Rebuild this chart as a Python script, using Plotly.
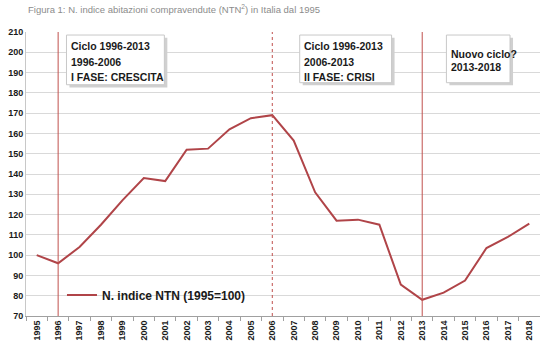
import plotly.graph_objects as go

years = [str(y) for y in range(1995, 2019)]
ntn = [100, 96, 104, 115, 127, 138, 136.5, 152, 152.5, 162, 167.5, 169,
       156.5, 131, 117, 117.5, 115, 85.5, 78, 81.5, 87.5, 103.5, 109, 115.5]
series_name = "N. indice NTN (1995=100)"
title_text = "Figura 1: N. indice abitazioni compravendute (NTN<sup>2</sup>) in Italia dal 1995"
y_ticks = list(range(70, 211, 10))
phase_years = ["1996", "2006", "2013"]
boxes = [
    ["Ciclo 1996-2013", "1996-2006", "I FASE: CRESCITA"],
    ["Ciclo 1996-2013", "2006-2013", "II FASE: CRISI"],
    ["Nuovo ciclo?", "2013-2018"],
]

RED = "#C0504D"
LINE = "#B04448"
FONT = "Liberation Sans"

fig = go.Figure()
fig.add_trace(go.Scatter(x=years, y=ntn, mode="lines", name="<b>" + series_name + "</b>",
                         line=dict(color=LINE, width=2)))

shapes = []
for i, yr in enumerate(phase_years):
    xi = years.index(yr)
    shapes.append(dict(type="line", xref="x", yref="y", x0=xi, x1=xi, y0=70, y1=210,
                       line=dict(color=RED, width=1, dash="dot" if i == 1 else "solid")))

box_geom = [(1.39, 5.96, 208.5, 184.0), (12.28, 16.57, 208.5, 185.0), (19.13, 22.1, 208.5, 185.0)]
text_x = [1.49, 12.38, 19.27]
line_y = [[203.1, 195.2, 187.6], [203.1, 195.2, 188.0], [199.1, 192.6]]
annotations = []
for (x0, x1, y1, y0), tx, ly, lines in zip(box_geom, text_x, line_y, boxes):
    shapes.append(dict(type="rect", xref="x", yref="y", x0=x0 + 0.14, x1=x1 + 0.14,
                       y0=y0 - 1.3, y1=y1 - 1.3, fillcolor="#d0d0d0",
                       line=dict(width=0), layer="above"))
    shapes.append(dict(type="rect", xref="x", yref="y", x0=x0, x1=x1, y0=y0, y1=y1,
                       fillcolor="white", line=dict(color="#c8c8c8", width=1), layer="above"))
    for t, yy in zip(lines, ly):
        annotations.append(dict(x=tx, y=yy, xref="x", yref="y", text="<b>%s</b>" % t,
                                showarrow=False, xanchor="left", yanchor="middle",
                                font=dict(family=FONT, size=10.5, color="#1a1a1a")))

annotations.append(dict(x=0, y=1, xref="paper", yref="paper", xanchor="left", yanchor="top",
                        text=title_text, showarrow=False, yshift=31,
                        font=dict(family=FONT, size=9.5, color="#8c8c8c")))

fig.update_layout(
    width=540, height=359,
    margin=dict(l=26, r=0, t=32, b=43, autoexpand=False),
    plot_bgcolor="white", paper_bgcolor="white",
    shapes=shapes, annotations=annotations,
    showlegend=True,
    legend=dict(x=0.07, y=0.074, xanchor="left", yanchor="middle",
                bgcolor="rgba(0,0,0,0)",
                font=dict(family=FONT, size=12, color="#1a1a1a")),
    xaxis=dict(type="category", range=[-0.5, len(years) - 0.5], tickangle=-90,
               tickvals=years, ticktext=["<b>%s</b>" % y for y in years],
               tickson="boundaries", ticks="outside", ticklen=4, tickcolor="#a0a0a0",
               showline=True, linecolor="#a0a0a0", showgrid=False, automargin=False,
               tickfont=dict(family=FONT, size=9, color="#1a1a1a")),
    yaxis=dict(range=[70, 210], tickvals=y_ticks, ticktext=["<b>%d</b>" % v for v in y_ticks],
               showgrid=True, gridcolor="#d9d9d9", automargin=False,
               showline=True, linecolor="#c8c8c8", zeroline=False, ticks="",
               tickfont=dict(family=FONT, size=9, color="#1a1a1a")),
)
fig.write_html("out.html", config={"displayModeBar": False},
               post_script="document.body.style.margin='0';")
